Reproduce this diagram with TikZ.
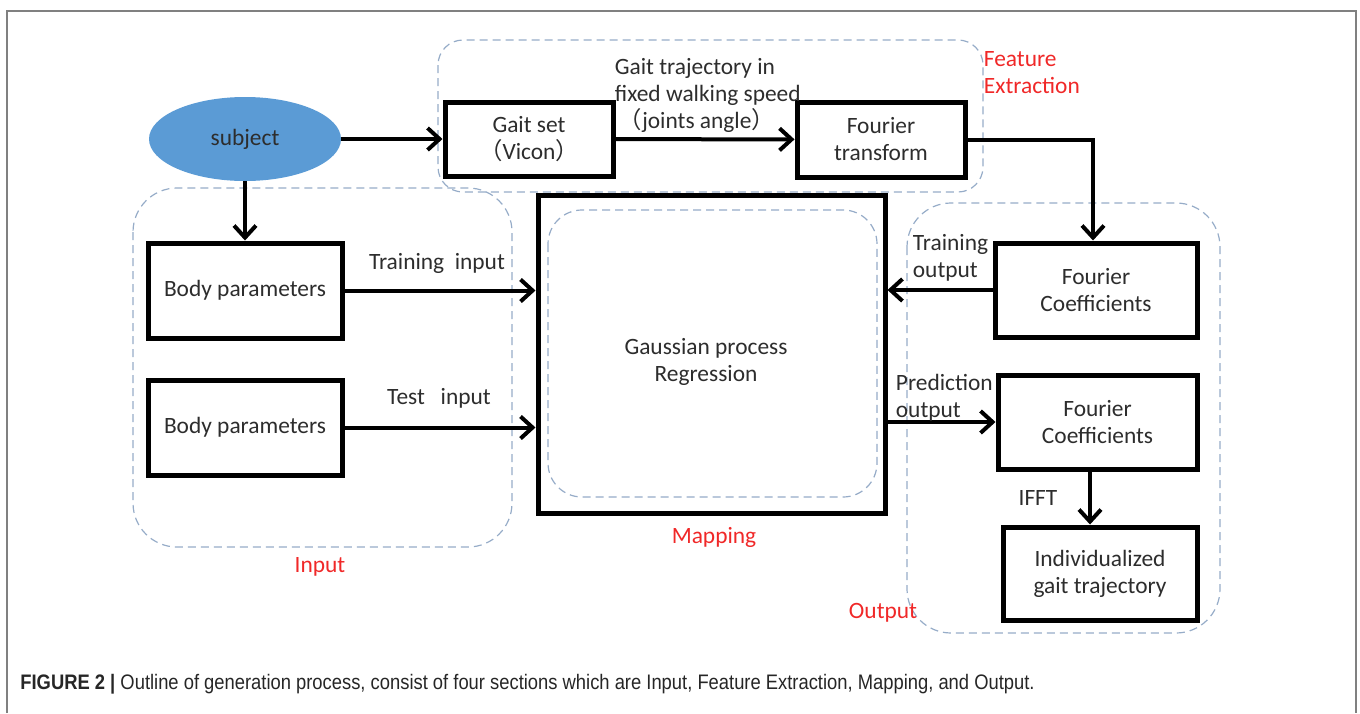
\documentclass[tikz,border=0pt]{standalone}
\usepackage{fontspec}
\setmainfont{Carlito}
\newfontfamily\cjk{Noto Sans CJK SC}
\newfontfamily\capfont{Liberation Sans}
\usetikzlibrary{positioning,arrows.meta,shapes.geometric}

\definecolor{subjblue}{RGB}{91,155,213}
\definecolor{grpline}{RGB}{150,172,200}
\definecolor{labred}{RGB}{240,40,40}
\definecolor{txtgray}{RGB}{45,45,45}
\definecolor{framegray}{RGB}{128,128,128}

\begin{document}
\begin{tikzpicture}[x=0.5pt,y=-0.5pt,
  font=\fontsize{11.7}{13.5}\selectfont,
  procbox/.style={draw=black,line width=2.5pt,fill=white,text=txtgray,align=center,inner sep=0pt},
  grpbox/.style={draw=grpline,line width=0.6pt,dash pattern=on 4pt off 2.5pt},
  lab/.style={inner sep=0.75pt,text=txtgray},
  redlab/.style={inner sep=0.75pt,text=labred},
  flow/.style={line width=2pt,-{Straight Barb[length=6pt,width=11pt,line width=2pt]}}]

\useasboundingbox (0,0) rectangle (1360,713);

%Frame
\draw [framegray,line width=1pt] (7,713) -- (7,11) -- (1356,11) -- (1356,713);

%Rounded Rect (groups)
\draw [grpbox,rounded corners=12.5pt] (438,40) rectangle (983,192);
\draw [grpbox,rounded corners=22pt] (133,188) rectangle (512,547);
\draw [grpbox,rounded corners=22pt] (907,203) rectangle (1220,633);

% Boxes
\node [ellipse,fill=subjblue,minimum width=96pt,minimum height=42pt,inner sep=0pt,text=txtgray] (subj) at (245,139) {subject};
\node [procbox,minimum width=84pt,minimum height=37pt] (gaitset) at (529,139) {Gait set\\{\cjk （}Vicon{\cjk ）}};
\node [procbox,minimum width=84pt,minimum height=37.5pt] (fourtr) at (881,139.5) {Fourier\\transform};
\node [procbox,minimum width=97pt,minimum height=47.5pt] (body1) at (245,290.5) {Body parameters};
\node [procbox,minimum width=97pt,minimum height=47.5pt] (body2) at (245,427.5) {Body parameters};
\node [procbox,minimum width=173.5pt,minimum height=159pt] (gpr) at (711.5,354) {};
\node [procbox,minimum width=101pt,minimum height=47pt] (fc1) at (1096,290) {Fourier\\Coefficients};
\node [procbox,minimum width=99.5pt,minimum height=47pt] (fc2) at (1097.5,422) {Fourier\\Coefficients};
\node [procbox,minimum width=97pt,minimum height=46.5pt] (indiv) at (1100,573.5) {Individualized\\gait trajectory};

%Rounded Rect (mapping inner)
\draw [grpbox,rounded corners=17pt] (548,210) rectangle (877,497);

% Arrows
\draw [flow] (subj) -- (gaitset);
\draw [flow] (subj) -- (body1);
\draw [flow] (gaitset) -- (fourtr);
\draw [flow] (fourtr.east) -| (fc1.north -| 1093,0);
\draw [flow] (body1.east) -- (body1.east -| gpr.west);
\draw [flow] (body2.east) -- (body2.east -| gpr.west);
\draw [flow] (fc1.west) -- (fc1.west -| gpr.east);
\draw [flow] (gpr.east |- fc2.west) -- (fc2.west);
\draw [flow] (fc2.south -| 1090,0) -- (indiv.north -| 1090,0);

% Text Node
\node [lab,align=center] (gprtxt) at (706,362) {Gaussian process\\Regression};
% Text Node
\node [lab,align=left,anchor=west] (trajtxt) at (613,95) {Gait trajectory in\\fixed walking speed\\\hspace{2pt}{\cjk （}joints angle{\cjk ）}};
% Text Node
\node [lab] (traintxt) at (437,263) {Training\ \ input};
% Text Node
\node [lab] (testtxt) at (439,398) {Test\ \ \ input};
% Text Node
\node [lab,align=left,anchor=west] (trainout) at (911,258) {Training\\output};
% Text Node
\node [lab,align=left,anchor=west] (predout) at (894,398) {Prediction\\output};
% Text Node
\node [lab] (iffttxt) at (1038,498) {IFFT};

% Red labels
\node [redlab,align=left,anchor=west] (featlab) at (982,73) {Feature\\Extraction};
\node [redlab] (inputlab) at (320,567) {Input};
\node [redlab] (maplab) at (714,537) {Mapping};
\node [redlab] (outlab) at (883,613) {Output};

% Caption
\node [anchor=west,inner sep=0pt,text=black!85] (caption) at (20,684) {\scalebox{0.875}[1]{\capfont\fontsize{10.5}{12}\selectfont\textbf{FIGURE 2 |} Outline of generation process, consist of four sections which are Input, Feature Extraction, Mapping, and Output.}};

\end{tikzpicture}
\end{document}
